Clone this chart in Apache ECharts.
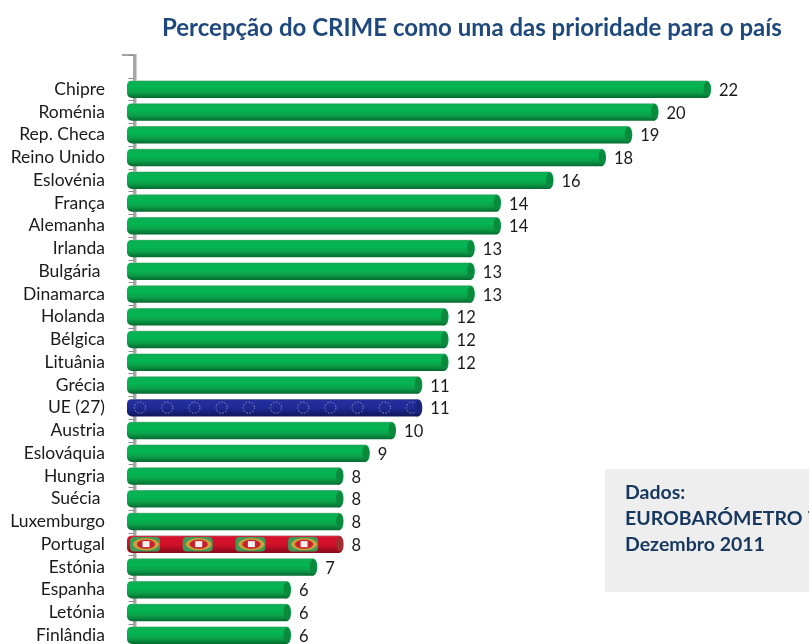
<!DOCTYPE html>
<html><head><meta charset="utf-8">
<script src="https://cdn.jsdelivr.net/npm/echarts@6/dist/echarts.min.js"></script>
<style>html,body{margin:0;padding:0;background:#fff}#c{width:809px;height:644px}</style>
</head><body><div id="c"></div>
<script>
const titleText = 'Percepção do CRIME como uma das prioridade para o país';
const noteLines = ['Dados:', 'EUROBARÓMETRO 76', 'Dezembro 2011'];
const categories = ['', 'Chipre', 'Roménia', 'Rep. Checa', 'Reino Unido', 'Eslovénia', 'França', 'Alemanha', 'Irlanda', 'Bulgária ', 'Dinamarca', 'Holanda', 'Bélgica', 'Lituânia', 'Grécia', 'UE (27)', 'Austria', 'Eslováquia', 'Hungria', 'Suécia ', 'Luxemburgo', 'Portugal', 'Estónia', 'Espanha', 'Letónia', 'Finlândia'];
const values = [22, 20, 19, 18, 16, 14, 14, 13, 13, 13, 12, 12, 12, 11, 11, 10, 9, 8, 8, 8, 8, 7, 6, 6, 6];
const FONT = 'Lato, Carlito, sans-serif';

function grad(stops){return {type:'linear',x:0,y:0,x2:0,y2:1,colorStops:stops.map(s=>({offset:s[0],color:s[1]}))};}
const greenBody = grad([[0,'#a9bdb0'],[0.06,'#0cae52'],[0.4,'#03b552'],[0.68,'#0ca24b'],[0.88,'#07803a'],[1,'#056a30']]);
const blueBody = grad([[0,'#8f94b8'],[0.08,'#232f9c'],[0.5,'#1f2a96'],[0.85,'#141c6e'],[1,'#10175a']]);
const redBody = grad([[0,'#b98a90'],[0.08,'#d8122e'],[0.55,'#cf1029'],[0.85,'#a00c20'],[1,'#860a1a']]);

function renderBar(params, api){
  const v = api.value(0), idx = api.value(1);
  const end = api.coord([v, idx]);
  const start = api.coord([-0.25, idx]);
  const h = 17.5, capW = 9;
  const y = end[1] - h/2, x0 = start[0], x1 = end[0];
  const name = categories[idx];
  const isEU = name === 'UE (27)', isPT = name === 'Portugal';
  const body = isEU ? blueBody : isPT ? redBody : greenBody;
  const capFill = isEU ? '#1a2480' : isPT ? '#a03030' : '#0b8a3e';
  const kids = [{type:'rect',shape:{x:x0,y:y,width:x1-x0-capW/2,height:h,r:[5,0,0,5]},style:{fill:body}}];
  kids.push({type:'ellipse',shape:{cx:x1-capW/2,cy:end[1],rx:capW/2,ry:h/2},style:{fill:body}});
  if(isEU){
    for(let cx=x0+13; cx<x1-4; cx+=27.2){
      kids.push({type:'circle',shape:{cx:cx,cy:end[1],r:5.6},style:{fill:'none',stroke:'#8d93c6',lineWidth:1,lineDash:[1.6,1.6]}});
    }
  }
  if(isPT){
    for(let tx=x0+3; tx<x1-12; tx+=52.7){
      kids.push({type:'rect',shape:{x:tx,y:y+1.5,width:30,height:h-3,r:4},style:{fill:'#3f9a58'}});
      kids.push({type:'ellipse',shape:{cx:tx+16,cy:end[1],rx:13,ry:6},style:{fill:'#c9a23c'}});
      kids.push({type:'ellipse',shape:{cx:tx+16,cy:end[1],rx:9,ry:4.5},style:{fill:'#c8202e'}});
      kids.push({type:'rect',shape:{x:tx+12.5,y:end[1]-3,width:7,height:6},style:{fill:'#f2f0ea'}});
    }
  }
  kids.push({type:'ellipse',shape:{cx:x1-capW/2+0.5,cy:end[1]-0.3,rx:capW/2-1,ry:h/2-1.5},style:{fill:capFill}});
  kids.push({type:'text',style:{x:x1+8,y:end[1]+1.5,text:String(v),fill:'#1a1a1a',font:'16.5px '+FONT,textAlign:'left',textVerticalAlign:'middle'}});
  return {type:'group',children:kids};
}

const chart = echarts.init(document.getElementById('c'), null, {renderer:'canvas'});
chart.setOption({
  animation:false,
  backgroundColor:'#ffffff',
  title:{text:titleText,left:157,top:11,textStyle:{fontFamily:FONT,fontSize:24,fontWeight:'bold',color:'#1f497d'}},
  grid:{left:127,top:55,width:662.8,height:591.5,containLabel:false,outerBoundsMode:'none'},
  xAxis:{type:'value',min:-0.25,max:25,show:false},
  yAxis:{type:'category',inverse:true,data:categories,
    axisLine:{show:true,lineStyle:{color:'#a6a6a6',width:2}},
    axisTick:{show:true,alignWithLabel:false,length:5,lineStyle:{color:'#8c8c8c',width:1}},
    axisLabel:{interval:0,margin:22,color:'#1a1a1a',fontFamily:FONT,fontSize:17.5,verticalAlign:'middle',padding:[0,0,3,0]},
    splitLine:{show:false}},
  graphic:[
    {type:'polyline',z:0,shape:{points:[[122,55],[135.5,55],[135.5,644]]},style:{stroke:'#a6a6a6',lineWidth:2,fill:'none'}},
    {type:'rect',z:0,shape:{x:605,y:469,width:204,height:123},style:{fill:'#eeeeee'}},
    {type:'text',z:1,style:{x:625,y:493,text:noteLines[0],fill:'#17375e',font:'bold 19.5px '+FONT,textVerticalAlign:'middle'}},
    {type:'text',z:1,style:{x:625,y:519,text:noteLines[1],fill:'#17375e',font:'bold 19.5px '+FONT,textVerticalAlign:'middle'}},
    {type:'text',z:1,style:{x:625,y:545,text:noteLines[2],fill:'#17375e',font:'bold 19.5px '+FONT,textVerticalAlign:'middle'}}
  ],
  series:[{type:'custom',z:3,clip:false,renderItem:renderBar,encode:{x:0,y:1},
    data:values.map((v,i)=>[v,i+1])}]
});
</script></body></html>
